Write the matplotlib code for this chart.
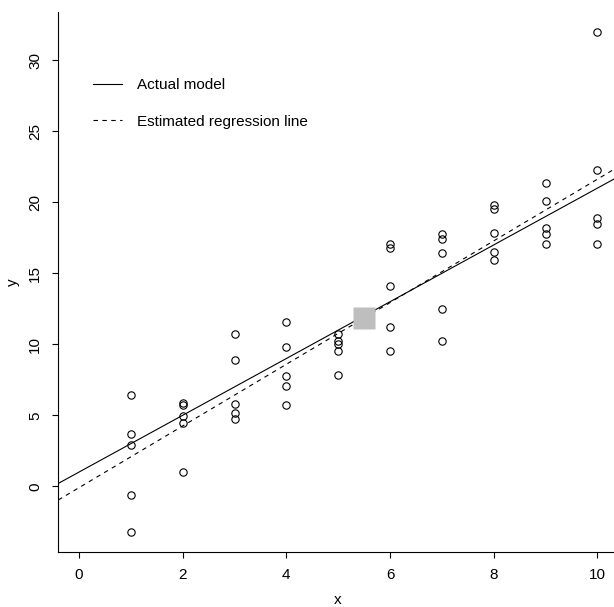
import numpy as np
import matplotlib
matplotlib.use("Agg")
import matplotlib.pyplot as plt

# datos (5 observaciones por cada x)
x_vals = [1, 2, 3, 4, 5, 6, 7, 8, 9, 10]
y_x1 = [6.4, 3.7, 2.9, -0.65, -3.2]
y_x2 = [5.9, 5.7, 4.98, 4.44, 0.99]
y_x3 = [10.7, 8.92, 5.77, 5.19, 4.74]
y_x4 = [11.6, 9.81, 7.75, 7.07, 5.73]
y_x5 = [10.75, 10.2, 10.05, 9.53, 7.87]
y_x6 = [17.09, 16.77, 14.08, 11.2, 9.5]
y_x7 = [17.8, 17.4, 16.4, 12.46, 10.2]
y_x8 = [19.8, 19.55, 17.84, 16.5, 15.96]
y_x9 = [21.36, 20.09, 18.2, 17.75, 17.1]
y_x10 = [32.0, 22.3, 18.9, 18.45, 17.1]

# modelo real: y = 1 + 2x
b0_real = 1.0
b1_real = 2.0

grupos = [y_x1, y_x2, y_x3, y_x4, y_x5, y_x6, y_x7, y_x8, y_x9, y_x10]
x = np.repeat(x_vals, 5)
y = np.concatenate(grupos)

b1_est, b0_est = np.polyfit(x, y, 1)

plt.rcParams['font.family'] = ['Liberation Sans', 'DejaVu Sans']
fs = 11

fig = plt.figure(figsize=(6.14, 6.07), dpi=100)
ax = fig.add_axes([58.3 / 614, (607 - 551.7) / 607, 559.8 / 614, 539.7 / 607])

ax.plot(x, y, 'o', mfc='none', mec='black', ms=5.3, mew=0.8, ls='none')
ax.axline((0, b0_real), slope=b1_real, color='black', lw=0.8, label='Actual model')
ax.axline((0, b0_est), slope=b1_est, color='black', lw=0.8, dashes=(4, 4),
          label='Estimated regression line')
ax.plot([x.mean()], [y.mean()], 's', color='#BEBEBE', ms=15.8, mec='none')

ax.set_xlim(-0.4, 10.4)
ax.set_ylim(-4.61, 33.41)
ax.set_xticks([0, 2, 4, 6, 8, 10])
ax.set_yticks([0, 5, 10, 15, 20, 25, 30])

ax.spines['top'].set_visible(False)
ax.spines['right'].set_visible(False)
ax.spines['left'].set_linewidth(0.8)
ax.spines['bottom'].set_linewidth(0.8)
ax.tick_params(axis='both', direction='out', length=4.5, width=0.8, labelsize=fs)
ax.tick_params(axis='x', pad=7.5)
ax.tick_params(axis='y', pad=7)
plt.setp(ax.get_yticklabels(), rotation=90, va='center')

fig.text(338 / 614, 1 - 600 / 607, 'x', ha='center', va='center', fontsize=fs)
fig.text(13 / 614, 1 - 282 / 607, 'y', ha='center', va='center', fontsize=fs, rotation=90)

ax.legend(loc='center left', bbox_to_anchor=(93 / 614, 1 - 103.5 / 607),
          bbox_transform=fig.transFigure, frameon=False, fontsize=fs,
          borderpad=0, borderaxespad=0, handlelength=1.9, handletextpad=0.95,
          labelspacing=1.45)

fig.savefig('out.png', dpi=100)
